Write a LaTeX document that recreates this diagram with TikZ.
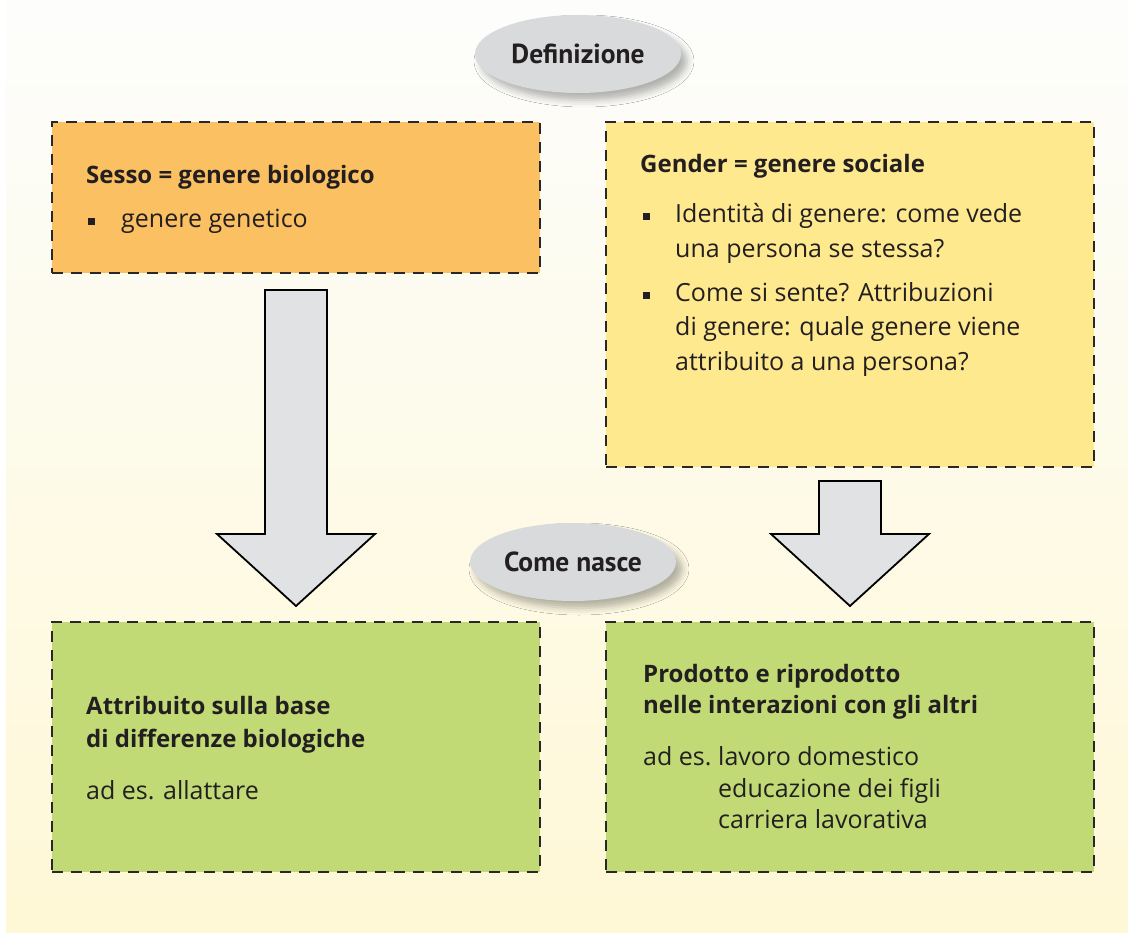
\documentclass[tikz,border=0pt]{standalone}
\usepackage{fontspec}
\setmainfont{Open Sans}
\newfontfamily\pillfont{PT Sans}
\usetikzlibrary{shadows.blur,shapes.geometric,calc}
\definecolor{bgtop}{RGB}{253,253,252}
\definecolor{bgmid}{RGB}{253,252,240}
\definecolor{bgbot}{RGB}{254,248,214}
\definecolor{boxorange}{RGB}{251,192,98}
\definecolor{boxyellow}{RGB}{255,233,142}
\definecolor{boxgreen}{RGB}{194,218,118}
\definecolor{ellgray}{RGB}{217,218,220}
\definecolor{arrowgray}{RGB}{225,226,228}
\definecolor{ink}{RGB}{35,31,32}
\definecolor{dashink}{RGB}{40,40,40}
\begin{document}
\begin{tikzpicture}[x=1pt,y=-1pt,
  dbox/.style={draw=dashink, line width=2.6pt, dash pattern=on 11pt off 8pt, minimum width=488pt, anchor=north west, inner sep=0pt, outer sep=0pt},
  ttl/.style={anchor=base west, inner sep=0pt, text=ink, font=\fontsize{24}{28}\selectfont\bfseries},
  txt/.style={anchor=base west, inner sep=0pt, text=ink, font=\fontsize{25}{28}\selectfont},
  bul/.style={fill=ink, minimum size=7pt, inner sep=0pt},
  pill/.style={ellipse, fill=ellgray, minimum width=206pt, minimum height=78pt, inner sep=0pt, text=ink, font=\pillfont\fontsize{27.5}{30}\selectfont\bfseries, blur shadow={shadow xshift=6pt, shadow yshift=-7pt, shadow blur radius=7pt, shadow opacity=30}},
  blockarrow/.style={draw=black, line width=1.8pt, fill=arrowgray, line join=miter}
]
\useasboundingbox (0,0) rectangle (1128,933);
\shade[top color=bgtop, middle color=bgmid, bottom color=bgbot] (6,0) rectangle (1128,933);

% boxes
\node[dbox, fill=boxorange, minimum height=151pt] (sesso) at (52,122) {};
\node[dbox, fill=boxyellow, minimum height=345pt] (gender) at (606,122) {};
\node[dbox, fill=boxgreen, minimum height=250pt] (biol) at (52,622) {};
\node[dbox, fill=boxgreen, minimum height=250pt] (soc) at (606,622) {};

% box texts
\node[ttl] (sessoT) at (86,184) {Sesso = genere biologico};
\node[bul] (sessoB) at (91,222) {};
\node[txt] (sessoL) at (121,228) {genere genetico};

\node[ttl] (genderT) at (640,173) {Gender = genere sociale};
\node[bul] (genderB1) at (646,217) {};
\node[txt] (genderL1) at (675,223) {Identità di genere: come vede};
\node[txt] (genderL2) at (675,258) {una persona se stessa?};
\node[bul] (genderB2) at (646,296) {};
\node[txt] (genderL3) at (675,302) {Come si sente? Attribuzioni};
\node[txt] (genderL4) at (675,336) {di genere: quale genere viene};
\node[txt] (genderL5) at (675,371) {attribuito a una persona?};

\node[ttl] (biolT1) at (86,714) {Attribuito sulla base};
\node[ttl] (biolT2) at (86,747) {di differenze biologiche};
\node[txt] (biolL) at (86,799) {ad es. allattare};

\node[ttl] (socT1) at (643,682) {Prodotto e riprodotto};
\node[ttl] (socT2) at (643,713) {nelle interazioni con gli altri};
\node[txt] (socE) at (643,765) {ad es.};
\node[txt] (socL1) at (718,765) {lavoro domestico};
\node[txt] (socL2) at (718,797) {educazione dei figli};
\node[txt] (socL3) at (718,828) {carriera lavorativa};

% block arrows
\path (sesso.south) ++(0,17) coordinate (a1top);
\path (biol.north) ++(0,-16) coordinate (a1tip);
\path (gender.south) ++(0,14) coordinate (a2top);
\path (soc.north) ++(0,-16) coordinate (a2tip);
\draw[blockarrow] ($(a1top)+(-31,0)$) -- ($(a1top)+(31,0)$) -- ($(a1tip)+(31,-72)$) -- ($(a1tip)+(79,-72)$) -- (a1tip) -- ($(a1tip)+(-79,-72)$) -- ($(a1tip)+(-31,-72)$) -- cycle;
\draw[blockarrow] ($(a2top)+(-31,0)$) -- ($(a2top)+(31,0)$) -- ($(a2tip)+(31,-72)$) -- ($(a2tip)+(79,-72)$) -- (a2tip) -- ($(a2tip)+(-79,-72)$) -- ($(a2tip)+(-31,-72)$) -- cycle;

% ellipses
\node[pill] (def) at (578,54) {Definizione};
\node[pill] (nasce) at (573,562) {Come nasce};
\end{tikzpicture}
\end{document}
